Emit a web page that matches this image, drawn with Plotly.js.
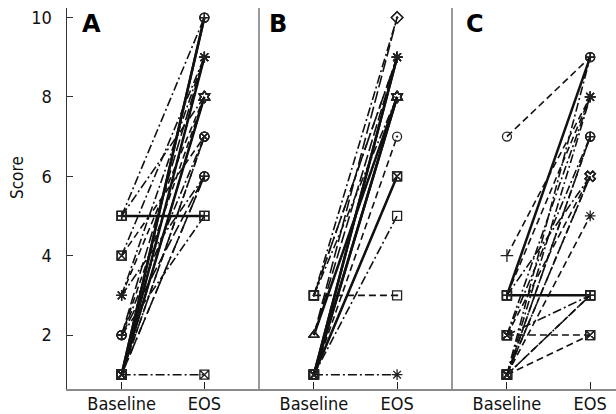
<!DOCTYPE html>
<html>
<head>
<meta charset="utf-8">
<script src="https://cdn.plot.ly/plotly-3.0.1.min.js"></script>
<style>html,body{margin:0;padding:0;background:#fff}#chart{width:616px;height:414px}</style>
</head>
<body>
<div id="chart"></div>
<script>
// ---- data ----
var categories = ["Baseline", "EOS"];
var panels = ["A", "B", "C"];
var yTicks = [2, 4, 6, 8, 10];
var yTitle = "Score";

var A_baseline = [1, 1, 1, 1, 1, 1, 1, 1, 1, 1, 1, 1, 2, 2, 2, 2, 3, 3, 3, 4, 4, 5, 5, 5, 2];
var A_eos      = [10, 10, 9, 9, 8, 8, 8, 7, 7, 6, 6, 1, 8, 7, 6, 5, 9, 8, 6, 9, 7, 10, 8, 5, 9];

var B_baseline = [1, 1, 1, 1, 1, 1, 1, 1, 1, 1, 1, 2, 2, 2, 2, 3, 3, 3, 3, 3];
var B_eos      = [9, 9, 9, 8, 8, 8, 7, 6, 6, 5, 1, 9, 8, 8, 10, 9, 9, 8, 3, 10];

var C_baseline = [7, 3, 3, 2, 4, 1, 1, 2, 1, 1, 1, 1, 1, 1, 1, 2, 2, 2, 3, 1, 3];
var C_eos      = [9, 9, 3, 2, 8, 2, 3, 3, 3, 5, 6, 6, 7, 7, 8, 8, 6, 7, 8, 9, 6];

// ---- styles (kept apart from data) ----
var dashSet = {
  s: "solid",
  d: "7px,4px",
  dd: "9px,3px,2px,3px",
  ld: "12px,4px",
  ldd: "12px,4px,2px,4px"
};
var A_style = ["s","s","s","d","s","dd","ld","d","dd","ldd","d","dd","d","dd","ld","dd","dd","d","dd","dd","d","dd","dd","s","ld"];
var B_style = ["s","s","d","s","s","dd","d","s","ld","dd","dd","ld","d","s","ld","d","ldd","dd","d","dd"];
var C_style = ["d","s","s","d","d","d","d","dd","dd","d","dd","d","dd","d","dd","dd","d","dd","d","dd","dd"];
var symbolFor = {1:"square-x-open",2:"circle-cross-open",3:"asterisk-open",4:"square-x-open",5:"square-cross-open",
                 6:"circle-cross-open",7:"circle-x-open",8:"hexagram-open",9:"asterisk-open",10:"circle-cross-open"};
var B_symbolFor = {1:"square-x-open",2:"triangle-up-open",3:"square-dot-open",5:"square-open",6:"square-x-open",
                 7:"circle-dot-open",8:"hexagram-open",9:"asterisk-open",10:"diamond-dot-open"};
var C_symbolFor = {1:"square-x-open",2:"square-x-open",3:"square-cross-open",4:"cross-thin-open",5:"asterisk-open",
                 6:"x-open",7:"circle-cross-open",8:"asterisk-open",9:"circle-cross-open"};

var traces = [];
function addPanel(base, eos, styles, xa, symMap) {
  for (var i = 0; i < base.length; i++) {
    var st = styles[i];
    var thick = (st === "s");
    var eosSym = symMap[eos[i]];
    var baseSym = symMap[base[i]];
    if (base[i] === 1 && eos[i] === 1 && xa === "x2") eosSym = "asterisk-open";
    if (xa === "x3" && base[i] === 7) baseSym = "circle-open";
    traces.push({
      type: "scatter", mode: "lines+markers",
      x: categories, y: [base[i], eos[i]],
      xaxis: xa, yaxis: "y",
      line: {color: "#111", width: thick ? 2.5 : 1.6, dash: dashSet[st]},
      marker: {symbol: [baseSym, eosSym], size: 9, color: "#222", line: {width: 1.3, color: "#222"}},
      showlegend: false, hoverinfo: "skip"
    });
  }
}
addPanel(A_baseline, A_eos, A_style, "x", symbolFor);
addPanel(B_baseline, B_eos, B_style, "x2", B_symbolFor);
addPanel(C_baseline, C_eos, C_style, "x3", C_symbolFor);

var fontFam = "DejaVu Sans Condensed, DejaVu Sans, sans-serif";
var boldFam = "DejaVu Sans, sans-serif";
var W = 616, H = 414, L = 67, T = 8, B = 25;
var d1 = (259 - L) / (W - L), d2 = (452 - L) / (W - L);
function py(p) { return (H - B - p) / (H - T - B); }

function xAxis(dom, rng) {
  return {
    domain: dom, anchor: "y", type: "category", categoryarray: categories,
    range: rng, showgrid: false, zeroline: false,
    showline: true, linecolor: "#8a8a8a", linewidth: 2,
    ticks: "inside", ticklen: 7, tickcolor: "#222", tickwidth: 1,
    ticklabelstandoff: -3,
    tickfont: {family: fontFam, size: 18, color: "#111"}
  };
}

var layout = {
  width: W, height: H,
  margin: {l: L, r: 0, t: T, b: B},
  paper_bgcolor: "#fff", plot_bgcolor: "#fff",
  showlegend: false,
  xaxis: xAxis([0, d1], [-0.66, 1.66]),
  xaxis2: xAxis([d1, d2], [-0.66, 1.66]),
  xaxis3: xAxis([d2, 1], [-0.66, 1.31]),
  yaxis: {
    range: [0.64, 10.24], tickvals: yTicks, showgrid: false, zeroline: false,
    showline: true, linecolor: "#333", linewidth: 1.5,
    ticks: "inside", ticklen: 6, tickcolor: "#333",
    ticklabelstandoff: 10,
    tickfont: {family: fontFam, size: 18, color: "#111"}
  },
  shapes: [
    {type: "line", xref: "paper", yref: "paper", x0: d1, x1: d1, y0: 0, y1: 1.0, line: {color: "#777", width: 1.5}},
    {type: "line", xref: "paper", yref: "paper", x0: d2, x1: d2, y0: 0, y1: 1.0, line: {color: "#777", width: 1.5}}
  ],
  annotations: [
    {text: yTitle, xref: "paper", yref: "paper", x: (17 - L) / (W - L), y: py(178), xanchor: "center", yanchor: "middle", textangle: -90, showarrow: false, font: {family: fontFam, size: 17, color: "#111"}},
    {text: "<b>" + panels[0] + "</b>", xref: "paper", yref: "paper", x: (80 - L) / (W - L), y: 1.0, xanchor: "left", yanchor: "top", showarrow: false, font: {family: boldFam, size: 24, color: "#000"}},
    {text: "<b>" + panels[1] + "</b>", xref: "paper", yref: "paper", x: (267 - L) / (W - L), y: 1.0, xanchor: "left", yanchor: "top", showarrow: false, font: {family: boldFam, size: 24, color: "#000"}},
    {text: "<b>" + panels[2] + "</b>", xref: "paper", yref: "paper", x: (464 - L) / (W - L), y: 1.0, xanchor: "left", yanchor: "top", showarrow: false, font: {family: boldFam, size: 24, color: "#000"}}
  ]
};

Plotly.newPlot("chart", traces, layout, {displayModeBar: false, staticPlot: true});
</script>
</body>
</html>
